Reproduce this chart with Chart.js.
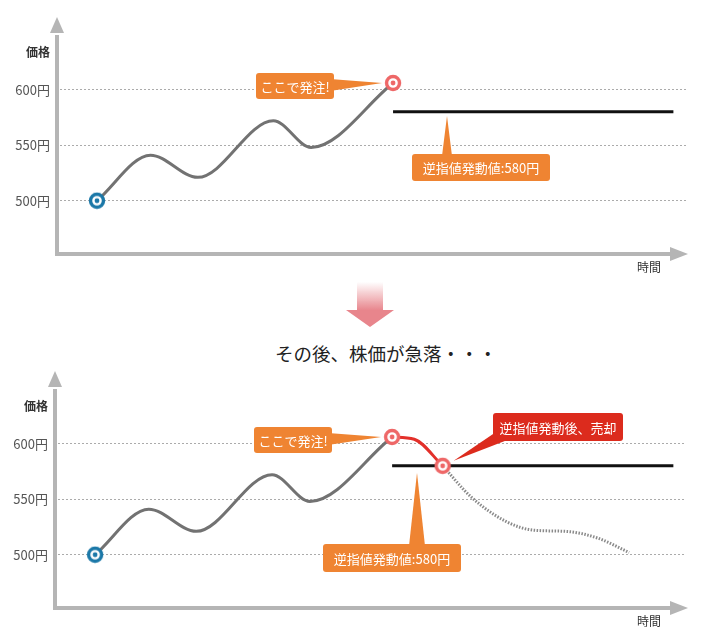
<!DOCTYPE html>
<html lang="ja">
<head>
<meta charset="UTF-8">
<title>逆指値の例</title>
<script src="https://cdn.jsdelivr.net/npm/chart.js"></script>
<style>
  html, body { margin: 0; padding: 0; background: #fff; }
  body { width: 702px; height: 640px; position: relative; overflow: hidden; font-family: "Noto Sans CJK JP", sans-serif; }
  canvas { position: absolute; left: 0; }
  #top { top: 0; }
  #bottom { top: 354px; }
  .shaft { position: absolute; left: 357px; top: 282px; width: 26px; height: 28px;
           background: linear-gradient(to bottom, rgba(232,135,142,0) 0%, #e8878e 100%); }
  .head { position: absolute; left: 346px; top: 310px; width: 0; height: 0;
          border-left: 24px solid transparent; border-right: 24px solid transparent; border-top: 17px solid #e8858c; }
  .caption { position: absolute; left: 0; width: 772px; top: 340px; text-align: center;
             font-size: 18.5px; color: #222; white-space: nowrap; }
</style>
</head>
<body>
<canvas id="top" width="702" height="286"></canvas>
<div class="shaft"></div>
<div class="head"></div>
<div class="caption">その後、株価が急落・・・</div>
<canvas id="bottom" width="702" height="286"></canvas>

<script>
// values (time is in arbitrary units 0-100)
const riseTime = [6.5, 15, 22.5, 34.5, 40.5, 53.5];
const risePrice = [500, 541, 521, 572, 548, 606];
const triggerTime = [53.5, 57, 61.5];
const triggerPrice = [606, 604, 580];
const fallTime = [61.5, 66, 71.5, 76, 81, 86, 91];
const fallPrice = [580, 552, 530, 522, 521, 515, 502];
const stopTime = [53.5, 98];
const stopPrice = 580;
const priceTicks = [500, 550, 600];

const FONT = '"Noto Sans CJK JP", sans-serif';
const ORANGE = '#ef8432';
const RED = '#dc2b1d';

const pts = (xs, ys) => xs.map((t, i) => ({ x: t, y: Array.isArray(ys) ? ys[i] : ys }));

// bullseye marker used as point style
function target(color) {
    const c = document.createElement('canvas');
    c.width = 18; c.height = 18;
    const g = c.getContext('2d');
    g.beginPath(); g.arc(9, 9, 6.5, 0, Math.PI * 2);
    g.fillStyle = '#fff'; g.fill();
    g.lineWidth = 3.4; g.strokeStyle = color; g.stroke();
    g.beginPath(); g.arc(9, 9, 2.4, 0, Math.PI * 2);
    g.fillStyle = color; g.fill();
    return c;
}
const blueMark = target('#1b78a8');
const redMark = target('#ee6767');

function roundRect(ctx, x, y, w, h, r) {
    ctx.beginPath();
    ctx.moveTo(x + r, y);
    ctx.lineTo(x + w - r, y); ctx.quadraticCurveTo(x + w, y, x + w, y + r);
    ctx.lineTo(x + w, y + h - r); ctx.quadraticCurveTo(x + w, y + h, x + w - r, y + h);
    ctx.lineTo(x + r, y + h); ctx.quadraticCurveTo(x, y + h, x, y + h - r);
    ctx.lineTo(x, y + r); ctx.quadraticCurveTo(x, y, x + r, y);
    ctx.closePath();
}

// axes with arrows, axis captions and callouts
const decor = {
    id: 'decor',
    beforeDatasetsDraw(chart) {
        const { ctx, chartArea: a } = chart;
        const ax = a.left + 1;
        ctx.save();
        ctx.strokeStyle = '#b5b5b5';
        ctx.fillStyle = '#b5b5b5';
        ctx.lineWidth = 4;
        ctx.beginPath();
        ctx.moveTo(ax, a.top + 2);
        ctx.lineTo(ax, a.bottom);
        ctx.lineTo(a.right - 14, a.bottom);
        ctx.stroke();
        ctx.beginPath();
        ctx.moveTo(ax - 7, a.top); ctx.lineTo(ax + 7, a.top); ctx.lineTo(ax, a.top - 16);
        ctx.closePath(); ctx.fill();
        ctx.beginPath();
        ctx.moveTo(a.right - 16, a.bottom - 7); ctx.lineTo(a.right - 16, a.bottom + 7); ctx.lineTo(a.right + 2, a.bottom);
        ctx.closePath(); ctx.fill();

        ctx.fillStyle = '#333';
        ctx.font = 'bold 12px ' + FONT;
        ctx.textAlign = 'right';
        ctx.textBaseline = 'middle';
        ctx.fillText('価格', a.left - 6, a.top + 19);
        ctx.font = '12px ' + FONT;
        ctx.textAlign = 'center';
        ctx.fillText('時間', a.right - 37, a.bottom + 13);
        ctx.restore();
    },
    afterDraw(chart, args, opts) {
        const { ctx, scales: { x, y } } = chart;
        const X = v => x.getPixelForValue(v);
        const Y = v => y.getPixelForValue(v);
        ctx.save();
        (opts.callouts || []).forEach(c => {
            const g = c.geom(X, Y);
            ctx.fillStyle = c.color;
            ctx.beginPath();
            ctx.moveTo(g.tri[0][0], g.tri[0][1]);
            ctx.lineTo(g.tri[1][0], g.tri[1][1]);
            ctx.lineTo(g.tri[2][0], g.tri[2][1]);
            ctx.closePath();
            ctx.fill();
            roundRect(ctx, g.box[0], g.box[1], g.box[2], g.box[3], 3);
            ctx.fill();
            ctx.fillStyle = '#fff';
            ctx.font = '13px ' + FONT;
            ctx.textAlign = 'center';
            ctx.textBaseline = 'middle';
            ctx.fillText(c.text, g.box[0] + g.box[2] / 2, g.box[1] + g.box[3] / 2 + 1);
        });
        ctx.restore();
    }
};

function lineSet(data, color, extra) {
    return Object.assign({
        data, borderColor: color, borderWidth: 3, pointRadius: 0,
        cubicInterpolationMode: 'monotone', fill: false
    }, extra || {});
}
function markSet(data, img) {
    return { data, showLine: false, pointStyle: img, pointRadius: 9, pointHoverRadius: 9 };
}

function makeChart(id, axisLeft, datasets, callouts) {
    return new Chart(document.getElementById(id), {
        type: 'line',
        data: { datasets },
        plugins: [decor],
        options: {
            responsive: false,
            animation: false,
            events: [],
            layout: { padding: { top: 33, bottom: 32, left: 0, right: 16 } },
            plugins: {
                legend: { display: false },
                tooltip: { enabled: false },
                decor: { callouts }
            },
            scales: {
                x: { type: 'linear', min: 0, max: 100, display: false },
                y: {
                    min: 452, max: 651,
                    afterFit: s => { s.width = axisLeft; },
                    afterBuildTicks: s => { s.ticks = priceTicks.map(v => ({ value: v })); },
                    grid: { color: '#ababab', lineWidth: 1, drawTicks: false },
                    border: { display: false, dash: [2, 2] },
                    ticks: {
                        padding: 6, color: '#555',
                        font: { size: 13, family: FONT },
                        callback: v => v + '円'
                    }
                }
            }
        }
    });
}

const orderCallout = (bx) => ({
    text: 'ここで発注!', color: ORANGE,
    geom: (X, Y) => ({
        box: [bx, 73, 78, 26],
        tri: [[bx + 74, 79], [bx + 74, 91], [X(riseTime[5]) - 11, Y(risePrice[5])]]
    })
});

// before: order placed
makeChart('top', 56, [
    markSet(pts([riseTime[0]], [risePrice[0]]), blueMark),
    markSet(pts([riseTime[5]], [risePrice[5]]), redMark),
    lineSet(pts(riseTime, risePrice), '#727272'),
    lineSet(pts(stopTime, stopPrice), '#111', { cubicInterpolationMode: 'default' })
], [
    orderCallout(256),
    {
        text: '逆指値発動値:580円', color: ORANGE,
        geom: (X, Y) => ({
            box: [412, 154, 138, 27],
            tri: [[442, 156], [452, 156], [447, Y(stopPrice) + 4]]
        })
    }
]);

// after: price falls, stop triggered
makeChart('bottom', 54, [
    markSet(pts([riseTime[0]], [risePrice[0]]), blueMark),
    markSet(pts([riseTime[5], triggerTime[2]], [risePrice[5], triggerPrice[2]]), redMark),
    lineSet(pts(triggerTime, triggerPrice), '#e3302a'),
    lineSet(pts(riseTime, risePrice), '#727272'),
    lineSet(pts(fallTime, fallPrice), '#8a8a8a', { borderDash: [1.5, 1.5] }),
    lineSet(pts(stopTime, stopPrice), '#111', { cubicInterpolationMode: 'default' })
], [
    orderCallout(254),
    {
        text: '逆指値発動値:580円', color: ORANGE,
        geom: (X, Y) => ({
            box: [323, 190, 138, 28],
            tri: [[409, 192], [425, 192], [417, Y(stopPrice) + 7]]
        })
    },
    {
        text: '逆指値発動後、売却', color: RED,
        geom: (X, Y) => ({
            box: [493, 59, 130, 28],
            tri: [[496, 78], [510, 85], [X(triggerTime[2]) + 11, Y(stopPrice) - 5]]
        })
    }
]);
</script>
</body>
</html>
